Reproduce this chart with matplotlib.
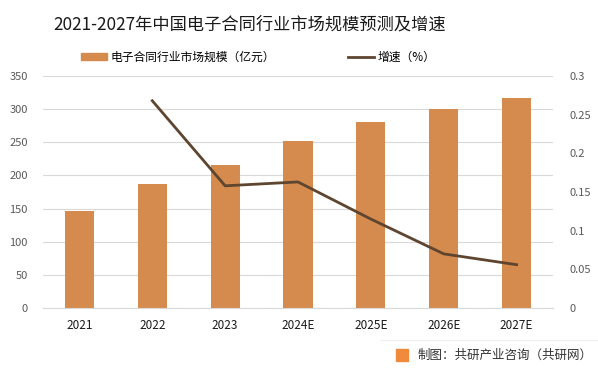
import numpy as np
import matplotlib
matplotlib.use("Agg")
import matplotlib.pyplot as plt
from matplotlib.patches import Patch, Rectangle
from matplotlib.lines import Line2D

plt.rcParams['font.family'] = ['Noto Sans CJK SC', 'DejaVu Sans']

years = ["2021", "2022", "2023", "2024E", "2025E", "2026E", "2027E"]
market_size = [146, 187, 216, 252, 280, 300, 317]
growth_years = ["2022", "2023", "2024E", "2025E", "2026E", "2027E"]
growth = [0.268, 0.158, 0.163, 0.115, 0.070, 0.056]

BAR_COLOR = "#D58B4D"
LINE_COLOR = "#5E4530"

fig = plt.figure(figsize=(5.98, 3.72), dpi=100)
ax = fig.add_axes([43/598, 1-308/372, (553-43)/598, (308-76)/372])
ax2 = ax.twinx()

x = np.arange(len(years))
ax.bar(x, market_size, width=0.4, color=BAR_COLOR, zorder=2)
gx = [years.index(y) for y in growth_years]
ax2.plot(gx, growth, color=LINE_COLOR, lw=2, zorder=3)

ax.set_ylim(0, 350)
ax.set_yticks(range(0, 351, 50))
ax2.set_ylim(0, 0.3)
ax2.set_yticks([0, 0.05, 0.1, 0.15, 0.2, 0.25, 0.3])
ax2.set_yticklabels(["0", "0.05", "0.1", "0.15", "0.2", "0.25", "0.3"])
ax.set_xlim(-0.5, len(years) - 0.5)
ax.set_xticks(x)
ax.set_xticklabels(years)

ax.grid(axis="y", color="#D9D9D9", lw=0.8, zorder=0)
ax.set_axisbelow(True)
for a in (ax, ax2):
    for s in a.spines.values():
        s.set_visible(False)
    a.tick_params(length=0)
ax.spines["bottom"].set_visible(True)
ax.spines["bottom"].set_color("#D9D9D9")
ax.tick_params(axis="y", labelsize=8, labelcolor="#595959", pad=11)
ax.tick_params(axis="x", labelsize=8.5, labelcolor="#1a1a1a", pad=8)
ax2.tick_params(axis="y", labelsize=8, labelcolor="#595959", pad=12)
ax.set_zorder(ax2.get_zorder() - 1)
ax.patch.set_visible(False)

fig.text(250/598, 1-25/372, "2021-2027年中国电子合同行业市场规模预测及增速",
         ha="center", va="center", fontsize=12.4, color="#1a1a1a")

handles = [Patch(color=BAR_COLOR), Line2D([], [], color=LINE_COLOR, lw=2)]
fig.legend(handles, ["电子合同行业市场规模（亿元）", "增速（%）"], loc="center",
           bbox_to_anchor=(258/598, 1-57/372), ncol=2, frameon=False,
           fontsize=8.5, handlelength=2.2, handleheight=0.5, columnspacing=6.2,
           handletextpad=0.3)

# footer
fig.add_artist(Line2D([380/598, 1], [1-340/372, 1-340/372], color="#EEEEEE", lw=0.8))
fig.add_artist(Rectangle((396/598, 1-361/372), 12/598, 12/372, color="#F08A3C"))
fig.text(418/598, 1-355/372, "制图：共研产业咨询（共研网）", ha="left", va="center",
         fontsize=9, color="#333333")

fig.savefig("out.png", dpi=100)
